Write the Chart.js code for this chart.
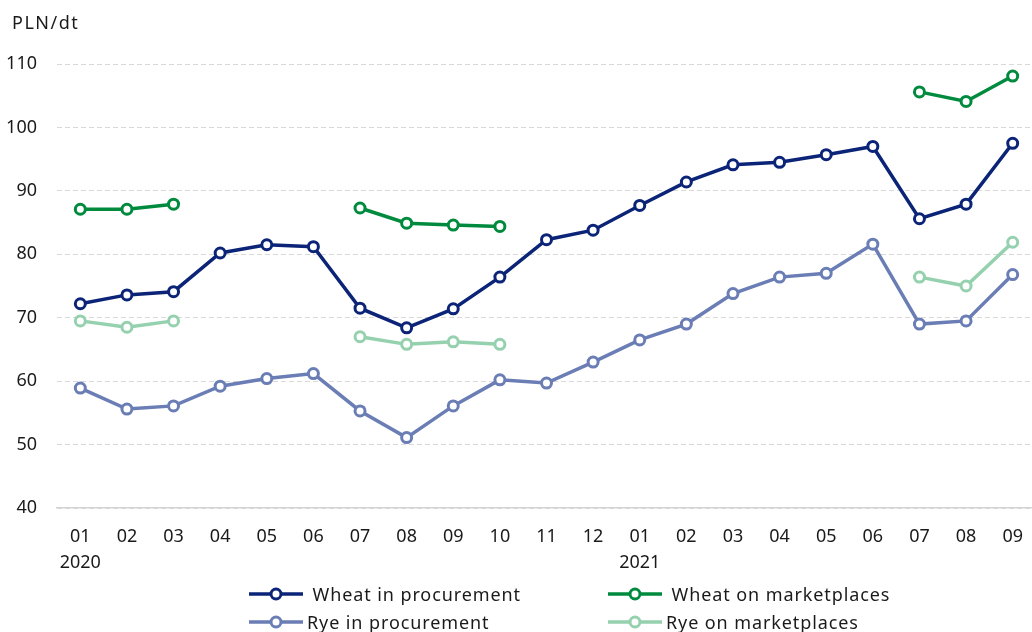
<!DOCTYPE html>
<html>
<head>
<meta charset="utf-8">
<script src="https://cdn.jsdelivr.net/npm/chart.js@4/dist/chart.umd.min.js"></script>
<style>
  html, body { margin: 0; padding: 0; background: #fff; overflow: hidden; }
  #wrap { position: relative; width: 1032px; height: 632px; overflow: hidden; }
  #cwrap { position: absolute; left: 0; top: 0; width: 1044px; height: 632px; }
  #unit { position: absolute; left: 12px; top: 10px; font: 18px "Noto Sans", sans-serif; color: #1a1a1a; letter-spacing: 1.5px; }
  .lg { position: absolute; font: 18px "Noto Sans", sans-serif; color: #1a1a1a; white-space: pre; display: flex; align-items: center; height: 24px; letter-spacing: 0.9px; }
  .lg svg { margin-right: 4px; }
</style>
</head>
<body>
<div id="wrap">
  <div id="cwrap"><canvas id="c" width="1044" height="632"></canvas></div>
  <div id="unit">PLN/dt</div>
  <div id="legend"></div>
</div>
<script>
const months = ['01','02','03','04','05','06','07','08','09','10','11','12','01','02','03','04','05','06','07','08','09'];
const years = {0: '2020', 12: '2021'};
const seriesNames = ['Wheat in procurement', 'Wheat on marketplaces', 'Rye in procurement', 'Rye on marketplaces'];
const wheatProcurement = [72.2, 73.6, 74.1, 80.2, 81.5, 81.2, 71.5, 68.4, 71.4, 76.4, 82.3, 83.8, 87.7, 91.4, 94.1, 94.5, 95.7, 97.0, 85.6, 87.9, 97.5];
const wheatMarketplaces = [87.1, 87.1, 87.9, null, null, null, 87.3, 84.9, 84.6, 84.4, null, null, null, null, null, null, null, null, 105.6, 104.1, 108.1];
const ryeProcurement = [58.9, 55.6, 56.1, 59.2, 60.4, 61.2, 55.3, 51.1, 56.1, 60.2, 59.7, 63.0, 66.5, 69.0, 73.8, 76.4, 77.0, 81.6, 69.0, 69.5, 76.8];
const ryeMarketplaces = [69.5, 68.5, 69.5, null, null, null, 67.0, 65.8, 66.2, 65.8, null, null, null, null, null, null, null, null, 76.4, 75.0, 81.9];
const yTicks = [40, 50, 60, 70, 80, 90, 100, 110];

const colors = ['#0b2477', '#008a3e', '#6a7db5', '#95d1ae'];
const allData = [wheatProcurement, wheatMarketplaces, ryeProcurement, ryeMarketplaces];

const labels = months.map((m, i) => years[i] ? [m, years[i]] : m);
const FONT = '"Noto Sans", sans-serif';

const datasets = allData.map((d, i) => ({
  label: seriesNames[i],
  data: d,
  borderColor: colors[i],
  backgroundColor: '#fff',
  pointBackgroundColor: '#fff',
  pointBorderColor: colors[i],
  pointRadius: 5,
  pointBorderWidth: 3,
  borderWidth: 3.5,
  spanGaps: false,
  tension: 0,
  order: i + 1
}));

new Chart(document.getElementById('c'), {
  type: 'line',
  data: { labels, datasets },
  options: {
    responsive: false,
    animation: false,
    layout: { padding: { top: 64, right: 1, left: 0, bottom: 0 } },
    plugins: { legend: { display: false }, tooltip: { enabled: false } },
    scales: {
      x: {
        offset: true,
        grid: { display: false, drawTicks: false },
        border: { display: true, color: '#d4d4d4', width: 1.5 },
        ticks: { font: { family: FONT, size: 18, lineHeight: 1.45 }, color: '#1a1a1a', padding: 16, maxRotation: 0, autoSkip: false },
        afterFit: s => { s.height = 124; }
      },
      y: {
        min: 40, max: 110,
        afterBuildTicks: s => { s.ticks = yTicks.map(v => ({ value: v })); },
        grid: { color: '#d9d9d9', lineWidth: 1, drawTicks: false },
        border: { display: false, dash: [5, 3] },
        ticks: { font: { family: FONT, size: 18 }, color: '#1a1a1a', padding: 20 },
        afterFit: s => { s.width = 57; }
      }
    }
  }
});

// legend
const legendPos = [
  { x: 249, y: 582, text: ' Wheat in procurement' },
  { x: 608, y: 582, text: ' Wheat on marketplaces' },
  { x: 249, y: 610, text: 'Rye in procurement' },
  { x: 608, y: 610, text: 'Rye on marketplaces' }
];
const lg = document.getElementById('legend');
legendPos.forEach((p, i) => {
  const el = document.createElement('div');
  el.className = 'lg';
  el.style.left = p.x + 'px';
  el.style.top = p.y + 'px';
  const c = colors[i];
  el.innerHTML = `<svg width="54" height="16"><line x1="0" y1="8" x2="54" y2="8" stroke="${c}" stroke-width="3.5"/><circle cx="27" cy="8" r="5" fill="#fff" stroke="${c}" stroke-width="3"/></svg>`;
  el.appendChild(document.createTextNode(p.text));
  lg.appendChild(el);
});
</script>
</body>
</html>
